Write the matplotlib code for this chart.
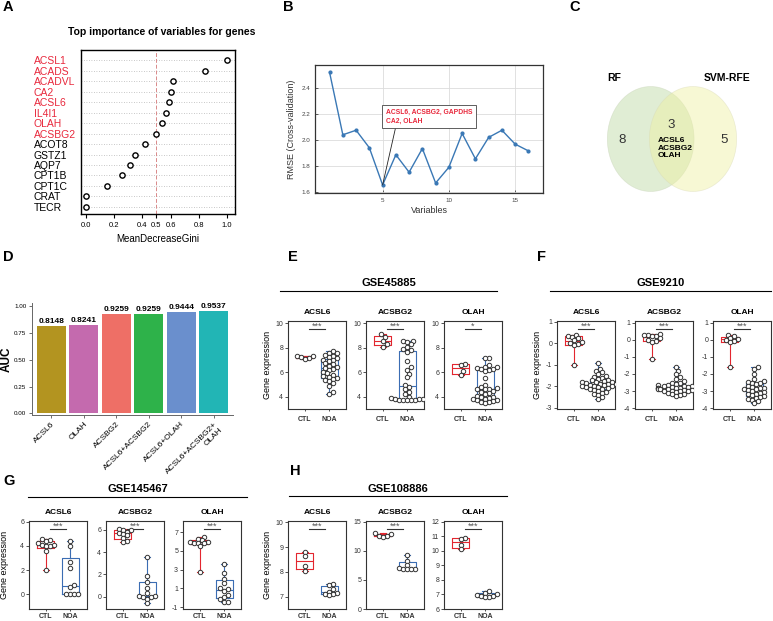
import numpy as np
import matplotlib

matplotlib.use("Agg")

import matplotlib.pyplot as plt
from matplotlib.lines import Line2D
from matplotlib.patches import Ellipse

plt.rcParams["font.family"] = ["Liberation Sans", "DejaVu Sans"]
plt.rcParams["axes.unicode_minus"] = False

FIG_W, FIG_H = 773, 621
RED = "#e3262f"
BLUE = "#3b6db3"
GENE_RED = "#e8283c"
DARK = "#333333"

# A - random forest importance
gini_genes = ["ACSL1", "ACADS", "ACADVL", "CA2", "ACSL6", "IL4I1", "OLAH", "ACSBG2",
              "ACOT8", "GSTZ1", "AQP7", "CPT1B", "CPT1C", "CRAT", "TECR"]
gini_values = [1.0, 0.846, 0.619, 0.600, 0.586, 0.565, 0.537, 0.499,
               0.421, 0.345, 0.310, 0.258, 0.149, 0.0, 0.0]
gini_selected = 8
gini_ticks = [0.0, 0.2, 0.4, 0.5, 0.6, 0.8, 1.0]

# B - SVM-RFE cross-validation
rmse_vars = [1, 2, 3, 4, 5, 6, 7, 8, 9, 10, 11, 12, 13, 14, 15, 16]
rmse_values = [2.52, 2.04, 2.075, 1.94, 1.654, 1.886, 1.752, 1.934,
               1.669, 1.79, 2.05, 1.855, 2.02, 2.075, 1.968, 1.916]
rmse_best = 5
rmse_best_genes = "ACSL6, ACSBG2, GAPDHS\nCA2, OLAH"

# C - overlap of the two methods
venn_names = ["RF", "SVM-RFE"]
venn_counts = [8, 3, 5]
venn_shared = ["ACSL6", "ACSBG2", "OLAH"]

# D - AUC of the diagnostic models
auc_models = ["ACSL6", "OLAH", "ACSBG2", "ACSL6+ACSBG2", "ACSL6+OLAH", "ACSL6+ACSBG2+\nOLAH"]
auc_values = [0.8148, 0.8241, 0.9259, 0.9259, 0.9444, 0.9537]
auc_colors = ["#b39420", "#c46aae", "#ee6f66", "#2eb24a", "#6a8fcd", "#22b5b5"]

# E - GSE45885
gse45885_acsl6_ctl = [7.35, 7.3, 7.22, 7.18, 7.12]
gse45885_acsl6_noa = [7.72, 7.62, 7.55, 7.45, 7.35, 7.25, 7.15, 7.05, 6.98, 6.9, 6.78, 6.65, 6.55,
                      6.45, 6.38, 6.3, 6.2, 6.05, 5.92, 5.8, 5.7, 5.62, 5.55, 5.48, 5.4, 5.3, 5.15,
                      4.9, 4.4, 4.2]
gse45885_acsbg2_ctl = [9.1, 8.9, 8.6, 8.3, 8.1]
gse45885_acsbg2_noa = [8.6, 8.55, 8.45, 8.3, 8.1, 7.9, 7.8, 7.7, 6.9, 6.4, 6.2, 5.9, 5.6, 5.0,
                       4.8, 4.6, 4.4, 4.2, 4.0, 3.9, 3.85, 3.8, 3.8, 3.75, 3.75, 3.7, 3.7, 3.7]
gse45885_olah_ctl = [6.7, 6.6, 6.1, 5.8]
gse45885_olah_noa = [7.2, 7.15, 6.6, 6.45, 6.4, 6.35, 6.3, 6.3, 6.2, 6.1, 5.5, 5.0, 4.8, 4.7,
                     4.65, 4.6, 4.6, 4.5, 4.4, 4.3, 4.2, 4.1, 4.0, 3.95, 3.9, 3.85, 3.8, 3.75,
                     3.7, 3.65, 3.6, 3.55, 3.5]

# F - GSE9210
gse9210_acsl6_ctl = [0.4, 0.35, 0.3, 0.25, 0.15, 0.05, 0.0, -0.05, -0.1, -1.0]
gse9210_acsl6_noa = [-0.9, -1.2, -1.3, -1.35, -1.45, -1.5, -1.55, -1.6, -1.65, -1.7, -1.72, -1.75,
                     -1.78, -1.8, -1.82, -1.85, -1.87, -1.9, -1.9, -1.92, -1.95, -1.97, -2.0,
                     -2.0, -2.02, -2.05, -2.08, -2.1, -2.12, -2.15, -2.2, -2.25, -2.3, -2.35,
                     -2.4, -2.5, -2.6]
gse9210_acsbg2_ctl = [0.35, 0.3, 0.3, 0.25, 0.2, 0.1, 0.0, -0.05, -0.1, -1.1]
gse9210_acsbg2_noa = [-1.6, -1.8, -2.0, -2.2, -2.3, -2.4, -2.5, -2.55, -2.6, -2.62, -2.65, -2.68,
                      -2.7, -2.72, -2.75, -2.78, -2.8, -2.8, -2.82, -2.85, -2.87, -2.9, -2.9,
                      -2.92, -2.95, -2.97, -3.0, -3.0, -3.02, -3.05, -3.1, -3.15, -3.2, -3.25,
                      -3.3]
gse9210_olah_ctl = [0.3, 0.2, 0.1, 0.05, 0.0, -0.05, -0.15, -1.6]
gse9210_olah_noa = [-1.6, -1.7, -2.0, -2.3, -2.4, -2.45, -2.5, -2.55, -2.6, -2.7, -2.75, -2.8,
                    -2.85, -2.9, -2.9, -2.95, -3.0, -3.05, -3.1, -3.15, -3.2, -3.25, -3.3,
                    -3.35, -3.4, -3.45, -3.5, -3.6, -3.7]

# G - GSE145467
gse145467_acsl6_ctl = [4.6, 4.5, 4.4, 4.25, 4.1, 4.05, 4.0, 3.95, 3.6, 2.0]
gse145467_acsl6_noa = [4.4, 4.0, 2.7, 2.2, 0.8, 0.6, 0.05, 0.05, 0.05, 0.05]
gse145467_acsbg2_ctl = [6.1, 6.0, 5.95, 5.85, 5.75, 5.65, 5.5, 5.3, 5.0, 4.9]
gse145467_acsbg2_noa = [3.6, 1.9, 1.3, 0.8, 0.3, 0.1, 0.05, 0.0, 0.0, -0.2, -0.6]
gse145467_olah_ctl = [6.5, 6.3, 6.15, 6.0, 5.95, 5.9, 5.85, 5.8, 5.5, 2.7]
gse145467_olah_noa = [3.6, 2.6, 2.0, 1.6, 1.0, 0.9, 0.7, 0.3, 0.1, -0.1, -0.4, -0.4]

# H - GSE108886
gse108886_acsl6_ctl = [8.8, 8.65, 8.25, 8.05]
gse108886_acsl6_noa = [7.5, 7.45, 7.3, 7.2, 7.15, 7.1, 7.1, 7.05]
gse108886_acsbg2_ctl = [13.0, 12.8, 12.6, 12.5, 12.4]
gse108886_acsbg2_noa = [9.3, 8.2, 7.5, 7.1, 6.9, 6.9, 6.8, 6.8]
gse108886_olah_ctl = [10.9, 10.8, 10.4, 10.1]
gse108886_olah_noa = [7.25, 7.1, 7.0, 6.95, 6.9, 6.9, 6.85, 6.8]


def fx(x):
    return x / FIG_W


def fy(y):
    return 1 - y / FIG_H


def add_axes_px(fig, left, top, width, height):
    return fig.add_axes([left / FIG_W, 1 - (top + height) / FIG_H, width / FIG_W, height / FIG_H])


def fig_text(fig, x, y, s, **kwargs):
    return fig.text(fx(x), fy(y), s, **kwargs)


def fig_hline(fig, x0, x1, y, color="black", lw=0.8):
    fig.add_artist(Line2D([fx(x0), fx(x1)], [fy(y), fy(y)], color=color, lw=lw))


def panel_letter(fig, x, y, letter):
    fig_text(fig, x, y - 3, letter, fontsize=10.5, fontweight="bold", ha="left", va="top")


def draw_importance(fig):
    ax = add_axes_px(fig, 81, 50, 154, 164)
    ypos = np.arange(len(gini_genes))
    for y in ypos:
        ax.axhline(y, color="#b5b5b5", lw=0.6, ls=(0, (1, 2)), zorder=1)
    ax.axvline(0.5, color="#d98a8a", lw=0.7, ls=(0, (4, 2)), zorder=1)
    ax.plot(gini_values, ypos, "o", ms=3.8, mfc="white", mec="black", mew=1.0, zorder=3)
    ax.set_xlim(-0.035, 1.057)
    ax.set_ylim(len(gini_genes) - 1 + 0.67, -0.96)
    ax.set_yticks(ypos, gini_genes)
    ax.tick_params(axis="y", length=0, pad=34, labelsize=7.5)
    for i, t in enumerate(ax.get_yticklabels()):
        t.set_ha("left")
        t.set_color(GENE_RED if i < gini_selected else "black")
    ax.set_xticks(gini_ticks, [f"{v:.1f}" for v in gini_ticks])
    ax.tick_params(axis="x", length=3, width=0.8, labelsize=5.5, pad=3)
    ax.set_xlabel("MeanDecreaseGini", fontsize=7, labelpad=3)
    for sp in ax.spines.values():
        sp.set_linewidth(1.0)
    fig_text(fig, 162, 32, "Top importance of variables for genes",
             fontsize=7.5, fontweight="bold", ha="center", va="center")


def draw_rmse(fig):
    ax = add_axes_px(fig, 315, 65, 228, 128)
    ax.plot(rmse_vars, rmse_values, color="#3a78b5", lw=1.0, marker="o", ms=2.0)
    ax.set_xlim(-0.1, 17.1)
    ax.set_ylim(1.592, 2.577)
    ax.set_xticks([5, 10, 15])
    ax.set_yticks([1.6, 1.8, 2.0, 2.2, 2.4])
    ax.grid(True, color="#dcdcdc", lw=0.6)
    ax.set_axisbelow(True)
    ax.tick_params(labelsize=4.5, length=2, width=0.6, direction="in", colors="#444444")
    for sp in ax.spines.values():
        sp.set_linewidth(0.9)
        sp.set_color("#333333")
    ax.set_xlabel("Variables", fontsize=6.5, labelpad=2, color="#333333")
    ax.set_ylabel("RMSE (Cross-validation)", fontsize=6.5, labelpad=4, color="#333333")
    best = rmse_values[rmse_vars.index(rmse_best)]
    ax.annotate(rmse_best_genes, xy=(rmse_best, best), xytext=(5.25, 2.18),
                ha="left", va="center", fontsize=4.9, fontweight="bold", color=GENE_RED,
                linespacing=1.35,
                bbox=dict(boxstyle="square,pad=0.55", fc="white", ec="#444444", lw=0.6),
                arrowprops=dict(arrowstyle="-", color="#222222", lw=0.6, relpos=(0.12, 0),
                                shrinkA=0, shrinkB=0))


def draw_venn(fig):
    ax = add_axes_px(fig, 560, 40, 213, 180)
    ax.set_xlim(560, 773)
    ax.set_ylim(220, 40)
    ax.axis("off")
    ax.add_patch(Ellipse((650.7, 139), 86.7, 105, fc="#bcd8a0", ec="#c4d0b4", lw=0.5, alpha=0.45))
    ax.add_patch(Ellipse((693, 139), 87.3, 105, fc="#eef0a0", ec="#d8d8b4", lw=0.5, alpha=0.45))
    ax.text(614, 78, venn_names[0], fontsize=7.5, fontweight="bold", ha="center", va="center")
    ax.text(727, 78, venn_names[1], fontsize=7.5, fontweight="bold", ha="center", va="center")
    ax.text(622, 140, str(venn_counts[0]), fontsize=9.5, ha="center", va="center", color=DARK)
    ax.text(671, 125, str(venn_counts[1]), fontsize=9.5, ha="center", va="center", color=DARK)
    ax.text(724, 140, str(venn_counts[2]), fontsize=9.5, ha="center", va="center", color=DARK)
    ax.text(658, 148, "\n".join(venn_shared), fontsize=6, fontweight="bold",
            ha="left", va="center", linespacing=1.15)


def draw_auc(fig):
    ax = add_axes_px(fig, 32, 303, 201, 112)
    x = np.arange(len(auc_models))
    ax.bar(x, auc_values, width=0.9, color=auc_colors)
    for xi, v in zip(x, auc_values):
        ax.text(xi, v + 0.012, f"{v:.4f}", ha="center", va="bottom", fontsize=6, fontweight="bold")
    ax.set_xlim(-0.6, 5.6)
    ax.set_ylim(-0.015, 1.03)
    ax.set_yticks([0, 0.25, 0.5, 0.75, 1.0], ["0.00", "0.25", "0.50", "0.75", "1.00"])
    ax.set_xticks(x)
    ax.set_xticklabels(auc_models, rotation=45, ha="right", va="top", rotation_mode="anchor",
                       fontsize=6, multialignment="right")
    ax.tick_params(axis="y", labelsize=4.5, length=2, width=0.6, pad=2,
                   colors="#555555", labelcolor="black")
    ax.tick_params(axis="x", length=2, width=0.6, colors="#555555", labelcolor="black", pad=2)
    ax.spines["top"].set_visible(False)
    ax.spines["right"].set_visible(False)
    for side in ("left", "bottom"):
        ax.spines[side].set_color("#666666")
        ax.spines[side].set_linewidth(0.7)
    ax.set_ylabel("AUC", fontsize=8.5, fontweight="bold")
    ax.yaxis.set_label_coords(-19 / 201, 0.5)


def box_stats(values):
    v = np.asarray(values, float)
    q1, med, q3 = np.percentile(v, [25, 50, 75], method="weibull")
    return dict(med=med, q1=q1, q3=q3, whislo=v.min(), whishi=v.max(), fliers=[])


def swarm_x(values, center, ylim, h_px, w_px, xlim, d=4.0):
    ys = (np.asarray(values, float) - ylim[0]) / (ylim[1] - ylim[0]) * h_px
    units_per_px = (xlim[1] - xlim[0]) / w_px
    steps = [0.0]
    for k in range(1, 10):
        steps += [k * 0.5 * d, -k * 0.5 * d]
    placed = []
    out = np.empty(len(ys))
    for i in np.argsort(ys):
        for dx in steps:
            if all((dx - px) ** 2 + (ys[i] - py) ** 2 >= (0.92 * d) ** 2 for px, py in placed):
                break
        placed.append((dx, ys[i]))
        out[i] = center + dx * units_per_px
    return out


def draw_expr(fig, left, top, width, height, title, ctl, noa, ylim, yticks, stars,
              ylabel_off=None, xpad=3.5):
    ax = add_axes_px(fig, left, top, width, height)
    xlim = (0.3, 2.7)
    for pos, vals, col in ((1, ctl, RED), (2, noa, BLUE)):
        props = dict(color=col, lw=0.8)
        ax.bxp([box_stats(vals)], positions=[pos], widths=0.7, capwidths=0.28, showfliers=False,
               boxprops=props, medianprops=props, whiskerprops=props, capprops=props)
        ax.plot(swarm_x(vals, pos, ylim, height, width, xlim), vals, "o", ms=3.2,
                mfc="white", mec="#333333", mew=0.7, zorder=3)
    ax.set_xlim(*xlim)
    ax.set_ylim(*ylim)
    ax.set_yticks(yticks)
    ax.set_xticks([1, 2], ["CTL", "NOA"], fontweight="bold", fontsize=5)
    ax.tick_params(labelsize=5, length=2, width=0.6, pad=1.5, colors=DARK)
    ax.tick_params(axis="x", pad=xpad, length=1.5)
    for sp in ax.spines.values():
        sp.set_linewidth(0.8)
        sp.set_color(DARK)
    yb = ylim[0] + 0.91 * (ylim[1] - ylim[0])
    ax.plot([1.15, 1.85], [yb, yb], color=DARK, lw=0.8)
    ax.text(1.5, yb, stars, ha="center", va="baseline", fontsize=6.5, color="#555555")
    fig_text(fig, left + width / 2, top - 9, title, fontsize=6, fontweight="bold",
             ha="center", va="center")
    if ylabel_off is not None:
        ax.set_ylabel("Gene expression", fontsize=6.5)
        ax.yaxis.set_label_coords(-ylabel_off / width, 0.5)
    return ax


def draw_dataset(fig, name, lefts, top, height, title_y, line, groups, ylabel_off, xpad):
    fig_text(fig, (line[0] + line[1]) / 2, title_y, name, fontsize=8, fontweight="bold",
             ha="center", va="center")
    fig_hline(fig, line[0], line[1], line[2])
    for i, (left, g) in enumerate(zip(lefts, groups)):
        draw_expr(fig, left, top, 58, height, *g,
                  ylabel_off=ylabel_off if i == 0 else None, xpad=xpad)


fig = plt.figure(figsize=(FIG_W / 100, FIG_H / 100), dpi=100)

draw_importance(fig)
draw_rmse(fig)
draw_venn(fig)
draw_auc(fig)

draw_dataset(fig, "GSE45885", [288, 366, 444], 321, 88, 283, (280, 497, 291), [
    ("ACSL6", gse45885_acsl6_ctl, gse45885_acsl6_noa, (3, 10.2), [4, 6, 8, 10], "***"),
    ("ACSBG2", gse45885_acsbg2_ctl, gse45885_acsbg2_noa, (3, 10.2), [4, 6, 8, 10], "***"),
    ("OLAH", gse45885_olah_ctl, gse45885_olah_noa, (3, 10.2), [4, 6, 8, 10], "*"),
], 16, 3.5)

draw_dataset(fig, "GSE9210", [557, 635, 713], 321, 88, 283, (550, 771, 291), [
    ("ACSL6", gse9210_acsl6_ctl, gse9210_acsl6_noa, (-3.05, 1.03), [-3, -2, -1, 0, 1], "***"),
    ("ACSBG2", gse9210_acsbg2_ctl, gse9210_acsbg2_noa, (-4.05, 1.1), [-4, -3, -2, -1, 0, 1], "***"),
    ("OLAH", gse9210_olah_ctl, gse9210_olah_noa, (-4.05, 1.1), [-4, -3, -2, -1, 0, 1], "***"),
], 15, 3.5)

draw_dataset(fig, "GSE145467", [29, 106, 183], 521, 88, 489, (28, 247, 497), [
    ("ACSL6", gse145467_acsl6_ctl, gse145467_acsl6_noa, (-1.2, 6.05), [0, 2, 4, 6], "***"),
    ("ACSBG2", gse145467_acsbg2_ctl, gse145467_acsbg2_noa, (-1.1, 6.8), [0, 2, 4, 6], "***"),
    ("OLAH", gse145467_olah_ctl, gse145467_olah_noa, (-1.2, 8.2), [-1, 1, 3, 5, 7], "***"),
], 20, 1.5)

draw_dataset(fig, "GSE108886", [288, 366, 444], 521, 88, 489, (289, 507, 496), [
    ("ACSL6", gse108886_acsl6_ctl, gse108886_acsl6_noa, (6.5, 10.05), [7, 8, 9, 10], "***"),
    ("ACSBG2", gse108886_acsbg2_ctl, gse108886_acsbg2_noa, (0, 15.1), [0, 5, 10, 15], "***"),
    ("OLAH", gse108886_olah_ctl, gse108886_olah_noa, (6, 12.05), [6, 7, 8, 9, 10, 11, 12], "***"),
], 16, 1.5)

for x, y, letter in [(3, 3, "A"), (283, 3, "B"), (569, 3, "C"), (3, 253, "D"),
                     (288, 253, "E"), (537, 253, "F"), (3, 477, "G"), (290, 467, "H")]:
    panel_letter(fig, x, y, letter)

fig.savefig("out.png", dpi=100, facecolor="white")
